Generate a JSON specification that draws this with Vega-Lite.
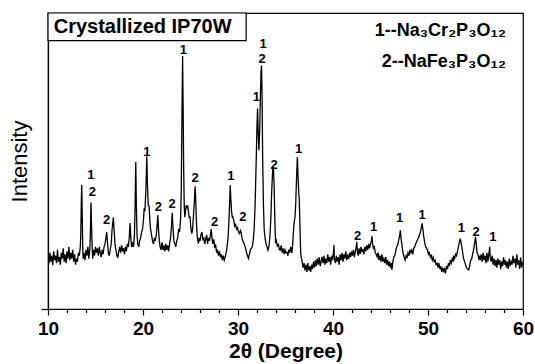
{
  "$schema": "https://vega.github.io/schema/vega-lite/v6.json",
  "width": 475,
  "height": 296,
  "autosize": "none",
  "padding": {"left": 48, "top": 13, "right": 12, "bottom": 55},
  "background": "white",
  "config": {
    "view": {"stroke": "black", "strokeWidth": 1.2},
    "font": "Liberation Sans"
  },
  "datasets": {
    "xrd": [
      {"t":10.0,"i":18.5},{"t":10.1,"i":15.5},{"t":10.2,"i":19},{"t":10.3,"i":16},{"t":10.4,"i":18},{"t":10.5,"i":14.8},{"t":10.6,"i":19.5},{"t":10.7,"i":16.5},{"t":10.8,"i":18},{"t":10.9,"i":15.5},
      {"t":11.0,"i":20},{"t":11.1,"i":16},{"t":11.2,"i":17.5},{"t":11.3,"i":15},{"t":11.4,"i":19},{"t":11.5,"i":17},{"t":11.6,"i":20.5},{"t":11.7,"i":16},{"t":11.8,"i":18.5},{"t":11.9,"i":15.5},
      {"t":12.0,"i":19.5},{"t":12.1,"i":17},{"t":12.2,"i":21},{"t":12.3,"i":16.5},{"t":12.4,"i":19},{"t":12.5,"i":17},{"t":12.6,"i":20},{"t":12.7,"i":16},{"t":12.8,"i":18.5},{"t":12.9,"i":15},
      {"t":13.0,"i":17},{"t":13.1,"i":16},{"t":13.2,"i":19},{"t":13.3,"i":18},{"t":13.4,"i":21},{"t":13.45,"i":25},{"t":13.5,"i":35},{"t":13.55,"i":42},{"t":13.6,"i":33},{"t":13.65,"i":22},
      {"t":13.7,"i":17},{"t":13.8,"i":19},{"t":13.9,"i":16.5},{"t":14.0,"i":20},{"t":14.1,"i":18},{"t":14.2,"i":21},{"t":14.3,"i":17},{"t":14.4,"i":20},{"t":14.45,"i":24},{"t":14.5,"i":32},
      {"t":14.53,"i":36},{"t":14.58,"i":28},{"t":14.65,"i":21},{"t":14.7,"i":17},{"t":14.8,"i":20},{"t":14.9,"i":18},{"t":15.0,"i":21},{"t":15.1,"i":19},{"t":15.2,"i":20.5},{"t":15.3,"i":18},
      {"t":15.4,"i":21},{"t":15.5,"i":19},{"t":15.6,"i":17.5},{"t":15.7,"i":20},{"t":15.8,"i":18.5},{"t":15.9,"i":21},{"t":16.0,"i":22},{"t":16.1,"i":24},{"t":16.18,"i":26},{"t":16.25,"i":23},
      {"t":16.35,"i":19},{"t":16.45,"i":18},{"t":16.55,"i":20},{"t":16.65,"i":22},{"t":16.75,"i":27},{"t":16.88,"i":31},{"t":16.95,"i":27},{"t":17.05,"i":22},{"t":17.15,"i":20},{"t":17.25,"i":18},
      {"t":17.35,"i":17.5},{"t":17.45,"i":19.5},{"t":17.55,"i":21},{"t":17.65,"i":19},{"t":17.75,"i":21.5},{"t":17.85,"i":19.5},{"t":17.95,"i":20.5},{"t":18.05,"i":18.5},{"t":18.15,"i":21},{"t":18.25,"i":19.5},
      {"t":18.35,"i":22},{"t":18.45,"i":21},{"t":18.55,"i":24},{"t":18.64,"i":29},{"t":18.72,"i":24},{"t":18.8,"i":21},{"t":18.9,"i":22.5},{"t":19.0,"i":21},{"t":19.1,"i":25},{"t":19.17,"i":35},
      {"t":19.24,"i":49.7},{"t":19.3,"i":35},{"t":19.37,"i":25},{"t":19.45,"i":22},{"t":19.55,"i":21},{"t":19.65,"i":23},{"t":19.75,"i":24},{"t":19.85,"i":26},{"t":19.95,"i":27},{"t":20.05,"i":30},
      {"t":20.12,"i":34},{"t":20.2,"i":33},{"t":20.3,"i":40},{"t":20.4,"i":51.6},{"t":20.47,"i":42},{"t":20.55,"i":35},{"t":20.64,"i":34.7},{"t":20.72,"i":30},{"t":20.8,"i":27},{"t":20.9,"i":25},
      {"t":21.0,"i":23},{"t":21.1,"i":22},{"t":21.2,"i":24},{"t":21.3,"i":23},{"t":21.4,"i":25},{"t":21.5,"i":29},{"t":21.56,"i":31.7},{"t":21.63,"i":27},{"t":21.72,"i":23},{"t":21.8,"i":21},
      {"t":21.9,"i":20},{"t":22.0,"i":22.5},{"t":22.1,"i":20},{"t":22.2,"i":21.5},{"t":22.3,"i":19.5},{"t":22.4,"i":22},{"t":22.5,"i":20},{"t":22.6,"i":21.5},{"t":22.7,"i":19.5},{"t":22.8,"i":22},
      {"t":22.9,"i":24},{"t":23.0,"i":28},{"t":23.07,"i":32.5},{"t":23.15,"i":28},{"t":23.25,"i":23},{"t":23.35,"i":22},{"t":23.45,"i":21},{"t":23.55,"i":23},{"t":23.65,"i":24},{"t":23.75,"i":27},
      {"t":23.85,"i":26},{"t":23.95,"i":30},{"t":24.03,"i":40},{"t":24.1,"i":65},{"t":24.17,"i":85.5},{"t":24.22,"i":70},{"t":24.28,"i":48},{"t":24.34,"i":35},{"t":24.4,"i":31},{"t":24.47,"i":33},
      {"t":24.55,"i":35},{"t":24.62,"i":34},{"t":24.7,"i":35},{"t":24.78,"i":33},{"t":24.86,"i":31},{"t":24.95,"i":31},{"t":25.05,"i":27},{"t":25.14,"i":25.5},{"t":25.22,"i":27},{"t":25.3,"i":31},
      {"t":25.4,"i":36},{"t":25.49,"i":41.5},{"t":25.56,"i":36},{"t":25.63,"i":29},{"t":25.7,"i":25},{"t":25.78,"i":23},{"t":25.84,"i":22.2},{"t":25.92,"i":24},{"t":26.0,"i":23},{"t":26.1,"i":25},
      {"t":26.2,"i":26},{"t":26.3,"i":23.5},{"t":26.4,"i":24},{"t":26.5,"i":22},{"t":26.6,"i":23.5},{"t":26.7,"i":25},{"t":26.8,"i":22},{"t":26.9,"i":24},{"t":27.0,"i":23},{"t":27.1,"i":25},
      {"t":27.18,"i":27},{"t":27.26,"i":24},{"t":27.35,"i":22},{"t":27.45,"i":23.5},{"t":27.55,"i":21},{"t":27.65,"i":21.5},{"t":27.75,"i":19},{"t":27.85,"i":20},{"t":27.95,"i":18},{"t":28.05,"i":19.5},
      {"t":28.15,"i":17.5},{"t":28.25,"i":18.5},{"t":28.35,"i":16.5},{"t":28.45,"i":18},{"t":28.55,"i":16.5},{"t":28.65,"i":17.5},{"t":28.75,"i":19},{"t":28.85,"i":21},{"t":28.95,"i":24},{"t":29.05,"i":30},
      {"t":29.12,"i":36},{"t":29.18,"i":41.8},{"t":29.25,"i":37},{"t":29.32,"i":33},{"t":29.4,"i":31},{"t":29.46,"i":31.1},{"t":29.55,"i":30},{"t":29.65,"i":28},{"t":29.75,"i":28.5},{"t":29.85,"i":27},
      {"t":29.95,"i":27.5},{"t":30.05,"i":26},{"t":30.15,"i":25.5},{"t":30.25,"i":26.5},{"t":30.32,"i":26},{"t":30.42,"i":24},{"t":30.5,"i":23},{"t":30.6,"i":22.5},{"t":30.7,"i":21.5},{"t":30.8,"i":20.5},
      {"t":30.9,"i":19},{"t":31.0,"i":18},{"t":31.1,"i":17.1},{"t":31.2,"i":18.5},{"t":31.3,"i":20},{"t":31.4,"i":20.5},{"t":31.5,"i":21},{"t":31.6,"i":23},{"t":31.7,"i":27},{"t":31.8,"i":35},
      {"t":31.9,"i":48},{"t":32.0,"i":62},{"t":32.06,"i":67.7},{"t":32.12,"i":60},{"t":32.2,"i":53.6},{"t":32.28,"i":60},{"t":32.36,"i":72},{"t":32.42,"i":80},{"t":32.48,"i":82.3},{"t":32.54,"i":70},
      {"t":32.6,"i":50},{"t":32.68,"i":35},{"t":32.76,"i":26.6},{"t":32.85,"i":24},{"t":32.95,"i":22},{"t":33.05,"i":21},{"t":33.15,"i":19.9},{"t":33.25,"i":21},{"t":33.35,"i":24},{"t":33.45,"i":30},
      {"t":33.55,"i":40},{"t":33.65,"i":47},{"t":33.72,"i":48},{"t":33.8,"i":42},{"t":33.88,"i":30},{"t":33.96,"i":22.2},{"t":34.05,"i":23},{"t":34.15,"i":21},{"t":34.25,"i":22},{"t":34.35,"i":20},
      {"t":34.45,"i":19.9},{"t":34.55,"i":21.5},{"t":34.65,"i":19},{"t":34.75,"i":20.5},{"t":34.85,"i":18.5},{"t":34.95,"i":20},{"t":35.05,"i":19},{"t":35.15,"i":19.2},{"t":35.25,"i":18},{"t":35.35,"i":20},
      {"t":35.45,"i":19},{"t":35.55,"i":21},{"t":35.68,"i":18.9},{"t":35.78,"i":23},{"t":35.86,"i":27},{"t":35.92,"i":29.4},{"t":36.0,"i":31},{"t":36.08,"i":36},{"t":36.16,"i":44},{"t":36.25,"i":51.3},
      {"t":36.32,"i":45},{"t":36.4,"i":39},{"t":36.45,"i":37},{"t":36.52,"i":28},{"t":36.6,"i":19},{"t":36.65,"i":17.6},{"t":36.75,"i":16},{"t":36.85,"i":14},{"t":36.95,"i":15.5},{"t":37.05,"i":13},
      {"t":37.15,"i":15},{"t":37.25,"i":12.5},{"t":37.35,"i":15.5},{"t":37.45,"i":13},{"t":37.55,"i":14.5},{"t":37.65,"i":12.5},{"t":37.75,"i":15},{"t":37.85,"i":13.5},{"t":37.95,"i":16},{"t":38.05,"i":14},
      {"t":38.15,"i":16.5},{"t":38.25,"i":14.5},{"t":38.35,"i":17},{"t":38.45,"i":15},{"t":38.55,"i":17.5},{"t":38.65,"i":14.5},{"t":38.75,"i":16},{"t":38.85,"i":17.6},{"t":38.95,"i":15.5},{"t":39.05,"i":18},
      {"t":39.15,"i":15},{"t":39.25,"i":17},{"t":39.35,"i":15.5},{"t":39.45,"i":18.5},{"t":39.55,"i":16},{"t":39.65,"i":17.5},{"t":39.75,"i":15},{"t":39.85,"i":18},{"t":39.95,"i":16.5},{"t":40.05,"i":19},
      {"t":40.1,"i":21.6},{"t":40.15,"i":17},{"t":40.25,"i":15.5},{"t":40.35,"i":18},{"t":40.45,"i":16},{"t":40.55,"i":17.5},{"t":40.65,"i":15},{"t":40.75,"i":18.5},{"t":40.85,"i":16.5},{"t":40.95,"i":19},
      {"t":41.05,"i":16},{"t":41.15,"i":18.5},{"t":41.25,"i":17},{"t":41.35,"i":19.5},{"t":41.45,"i":16.5},{"t":41.55,"i":18},{"t":41.65,"i":17},{"t":41.75,"i":19},{"t":41.85,"i":17.5},{"t":41.95,"i":19.5},
      {"t":42.05,"i":18},{"t":42.15,"i":20},{"t":42.25,"i":17.5},{"t":42.35,"i":19.5},{"t":42.45,"i":21},{"t":42.5,"i":22.7},{"t":42.58,"i":19},{"t":42.65,"i":18},{"t":42.75,"i":20.5},{"t":42.85,"i":18.5},
      {"t":42.95,"i":21},{"t":43.05,"i":19.5},{"t":43.15,"i":20},{"t":43.25,"i":18.5},{"t":43.35,"i":21},{"t":43.45,"i":19.5},{"t":43.55,"i":21.5},{"t":43.65,"i":20},{"t":43.75,"i":22},{"t":43.85,"i":20.5},
      {"t":43.95,"i":22},{"t":44.05,"i":23},{"t":44.1,"i":24.6},{"t":44.17,"i":22},{"t":44.25,"i":20.5},{"t":44.35,"i":21},{"t":44.45,"i":19},{"t":44.55,"i":18.5},{"t":44.64,"i":17.6},{"t":44.75,"i":19},
      {"t":44.85,"i":16.5},{"t":44.95,"i":18},{"t":45.05,"i":16},{"t":45.15,"i":18.5},{"t":45.25,"i":16},{"t":45.35,"i":17},{"t":45.45,"i":15.5},{"t":45.55,"i":17.5},{"t":45.65,"i":15},{"t":45.75,"i":16.5},
      {"t":45.85,"i":14.5},{"t":45.95,"i":16},{"t":46.05,"i":14},{"t":46.15,"i":15.5},{"t":46.2,"i":13.2},{"t":46.3,"i":16},{"t":46.4,"i":17.5},{"t":46.5,"i":18},{"t":46.6,"i":19.5},{"t":46.7,"i":21},
      {"t":46.8,"i":21.5},{"t":46.9,"i":23},{"t":47.0,"i":24.5},{"t":47.09,"i":26.6},{"t":47.16,"i":24},{"t":47.24,"i":22},{"t":47.32,"i":20},{"t":47.4,"i":18.5},{"t":47.5,"i":17.5},{"t":47.6,"i":16.5},
      {"t":47.7,"i":18},{"t":47.8,"i":17.5},{"t":47.9,"i":19},{"t":48.0,"i":18},{"t":48.1,"i":20},{"t":48.2,"i":19},{"t":48.3,"i":19.9},{"t":48.4,"i":18.5},{"t":48.5,"i":20.5},{"t":48.6,"i":21},
      {"t":48.7,"i":22},{"t":48.8,"i":22.7},{"t":48.9,"i":23.5},{"t":49.0,"i":24},{"t":49.1,"i":25},{"t":49.2,"i":26},{"t":49.3,"i":27.5},{"t":49.38,"i":28.9},{"t":49.46,"i":27},{"t":49.55,"i":24.5},
      {"t":49.65,"i":22.5},{"t":49.75,"i":21},{"t":49.85,"i":20.5},{"t":49.95,"i":19.9},{"t":50.05,"i":18.5},{"t":50.15,"i":19},{"t":50.25,"i":17.5},{"t":50.35,"i":18},{"t":50.45,"i":16.5},{"t":50.55,"i":17.5},
      {"t":50.65,"i":16},{"t":50.75,"i":16.5},{"t":50.85,"i":15},{"t":50.96,"i":15.4},{"t":51.05,"i":14},{"t":51.15,"i":15.5},{"t":51.25,"i":13.5},{"t":51.35,"i":14.5},{"t":51.45,"i":12.5},{"t":51.55,"i":14},
      {"t":51.65,"i":12.8},{"t":51.75,"i":13.5},{"t":51.83,"i":12},{"t":51.95,"i":14.5},{"t":52.05,"i":13.5},{"t":52.15,"i":15.5},{"t":52.25,"i":14.5},{"t":52.35,"i":16.5},{"t":52.45,"i":15.5},{"t":52.55,"i":17},
      {"t":52.65,"i":16},{"t":52.7,"i":17.6},{"t":52.8,"i":17},{"t":52.9,"i":18.5},{"t":53.0,"i":18},{"t":53.1,"i":19.5},{"t":53.2,"i":21},{"t":53.3,"i":22.5},{"t":53.4,"i":23.8},{"t":53.48,"i":22.5},
      {"t":53.56,"i":21},{"t":53.65,"i":19},{"t":53.75,"i":17},{"t":53.85,"i":16},{"t":53.95,"i":15},{"t":54.05,"i":14},{"t":54.15,"i":13.5},{"t":54.29,"i":13.2},{"t":54.4,"i":15},{"t":54.5,"i":16.5},
      {"t":54.6,"i":17},{"t":54.7,"i":18.5},{"t":54.8,"i":20},{"t":54.9,"i":22},{"t":55.0,"i":24.4},{"t":55.08,"i":22},{"t":55.16,"i":19},{"t":55.25,"i":18.5},{"t":55.35,"i":17},{"t":55.45,"i":18},
      {"t":55.5,"i":16.5},{"t":55.6,"i":18.5},{"t":55.7,"i":16},{"t":55.8,"i":19},{"t":55.9,"i":16.5},{"t":56.0,"i":18},{"t":56.1,"i":15.5},{"t":56.2,"i":19},{"t":56.3,"i":16},{"t":56.4,"i":18.5},
      {"t":56.5,"i":21},{"t":56.55,"i":17},{"t":56.65,"i":16},{"t":56.75,"i":18},{"t":56.85,"i":15},{"t":56.95,"i":17},{"t":57.05,"i":14.5},{"t":57.15,"i":16.5},{"t":57.25,"i":14},{"t":57.35,"i":17},
      {"t":57.45,"i":15},{"t":57.55,"i":16.5},{"t":57.65,"i":13.5},{"t":57.75,"i":16},{"t":57.85,"i":14.5},{"t":57.95,"i":17.5},{"t":58.05,"i":15},{"t":58.15,"i":16.5},{"t":58.25,"i":14},{"t":58.35,"i":16},
      {"t":58.45,"i":13.5},{"t":58.55,"i":17},{"t":58.65,"i":14.5},{"t":58.75,"i":16},{"t":58.85,"i":15},{"t":58.95,"i":18},{"t":59.05,"i":15.5},{"t":59.15,"i":17},{"t":59.25,"i":14},{"t":59.35,"i":18.5},
      {"t":59.45,"i":15},{"t":59.55,"i":16.5},{"t":59.65,"i":13.5},{"t":59.75,"i":17.5},{"t":59.85,"i":14},{"t":59.95,"i":15.5},{"t":60.0,"i":16}
    ],
    "labels": [
      {"t":14.5,"i":45.2,"txt":"1"},{"t":14.67,"i":39.6,"txt":"2"},{"t":16.18,"i":30,"txt":"2"},{"t":20.4,"i":53,"txt":"1"},
      {"t":21.62,"i":34.5,"txt":"2"},{"t":23.07,"i":35.4,"txt":"2"},{"t":24.26,"i":87.6,"txt":"1"},{"t":25.49,"i":44.3,"txt":"2"},
      {"t":27.53,"i":29.4,"txt":"2"},{"t":29.25,"i":44.9,"txt":"1"},{"t":30.51,"i":31.1,"txt":"2"},{"t":31.92,"i":71.6,"txt":"1"},
      {"t":32.63,"i":89.4,"txt":"1"},{"t":32.55,"i":84.6,"txt":"2"},{"t":33.8,"i":48.6,"txt":"2"},{"t":36.38,"i":54.2,"txt":"1"},
      {"t":42.6,"i":24.7,"txt":"2"},{"t":44.28,"i":27.8,"txt":"1"},{"t":47.02,"i":30.6,"txt":"1"},{"t":49.38,"i":31.7,"txt":"1"},
      {"t":53.52,"i":27.2,"txt":"1"},{"t":55.07,"i":26.1,"txt":"2"},{"t":56.82,"i":24.2,"txt":"1"}
    ],
    "box": [{"t":10,"t2":30.86,"i":90.7,"i2":100}],
    "boxtext": [{"t":10.6,"i":95.4,"txt":"Crystallized IP70W"}],
    "legend": [
      {"t":58.2,"i":93.8,"txt":"1--Na₃Cr₂P₃O₁₂"},
      {"t":58.2,"i":83.6,"txt":"2--NaFe₃P₃O₁₂"}
    ]
  },
  "encoding": {
    "x": {
      "field": "t", "type": "quantitative",
      "scale": {"domain": [10, 60], "nice": false, "zero": false},
      "title": "2θ (Degree)",
      "axis": {
        "values": [10,12,14,16,18,20,22,24,26,28,30,32,34,36,38,40,42,44,46,48,50,52,54,56,58,60],
        "labelExpr": "datum.value % 10 === 0 ? datum.label : ''",
        "labelOverlap": false,
        "labelFlush": false,
        "grid": false,
        "domainColor": "black", "domainWidth": 1.2,
        "tickColor": "black", "tickWidth": 1.2,
        "tickSize": {"condition": {"test": "datum.value % 10 === 0", "value": 6}, "value": 3.5},
        "labelFont": "Liberation Sans", "labelFontWeight": "bold", "labelFontSize": 19, "labelColor": "black",
        "labelPadding": 4,
        "titleFont": "Liberation Sans", "titleFontWeight": "bold", "titleFontSize": 21, "titleColor": "black",
        "titlePadding": 2
      }
    },
    "y": {
      "field": "i", "type": "quantitative",
      "scale": {"domain": [0, 100], "nice": false},
      "title": "Intensity",
      "axis": {
        "values": [0],
        "labels": false,
        "grid": false,
        "domainColor": "black", "domainWidth": 1.2,
        "tickColor": "black", "tickWidth": 1.2, "tickSize": 7,
        "titleFont": "Liberation Sans", "titleFontWeight": "normal", "titleFontSize": 22, "titleColor": "black",
        "titlePadding": 9
      }
    }
  },
  "layer": [
    {
      "data": {"name": "xrd"},
      "mark": {"type": "line", "color": "black", "strokeWidth": 1.3, "clip": true}
    },
    {
      "data": {"name": "labels"},
      "mark": {"type": "text", "font": "Liberation Sans", "fontWeight": "bold", "fontSize": 13, "color": "black", "align": "center", "baseline": "middle"},
      "encoding": {"text": {"field": "txt"}}
    },
    {
      "data": {"name": "box"},
      "mark": {"type": "rect", "fill": "white", "stroke": "black", "strokeWidth": 1.2},
      "encoding": {"x2": {"field": "t2"}, "y2": {"field": "i2"}}
    },
    {
      "data": {"name": "boxtext"},
      "mark": {"type": "text", "font": "Liberation Sans", "fontWeight": "bold", "fontSize": 20, "color": "black", "align": "left", "baseline": "middle"},
      "encoding": {"text": {"field": "txt"}}
    },
    {
      "data": {"name": "legend"},
      "mark": {"type": "text", "font": "Liberation Sans", "fontWeight": "bold", "fontSize": 18, "color": "black", "align": "right", "baseline": "middle"},
      "encoding": {"text": {"field": "txt"}}
    }
  ]
}
